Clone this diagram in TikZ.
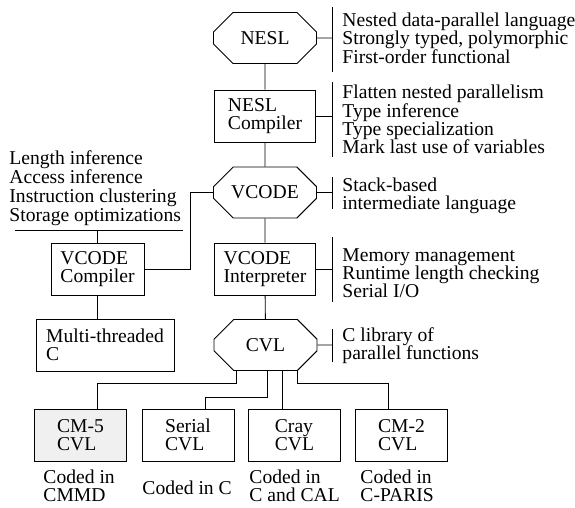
\documentclass[tikz,border=0pt]{standalone}
\usepackage{fontspec}
\setmainfont{Liberation Serif}
\usetikzlibrary{shapes.misc}

\begin{document}
\begin{tikzpicture}[x=1pt,y=-1pt,line width=0.9pt,
every node/.append style={font=\fontsize{19.6}{18.3}\selectfont},
stage/.style={chamfered rectangle,draw,chamfered rectangle xsep=15pt,
chamfered rectangle ysep=13pt,minimum width=103pt,minimum height=51pt,inner sep=0pt},
tool/.style={rectangle,draw,align=left,minimum width=92pt,minimum height=52pt,inner sep=0pt},
note/.style={align=left,anchor=west,inner xsep=10pt,inner ysep=0pt},
coded/.style={align=left,anchor=north west,inner sep=0pt}]
\useasboundingbox (0,0) rectangle (575,508);

\node[stage] (nesl) at (265,38) {NESL};
\node[tool,minimum width=101pt] (nc) at (265,116) {NESL\\Compiler};
\node[stage] (vcode) at (265,192.5) {VCODE};
\node[tool,minimum width=93pt] (vcc) at (97.5,269) {VCODE\\Compiler};
\node[tool,minimum width=101pt] (vci) at (265,269) {VCODE\\Interpreter};
\node[tool,minimum width=138pt] (mtc) at (105,345) {Multi-threaded\\C};
\node[stage] (cvl) at (265.5,345) {CVL};

\node[tool,fill=gray!12] (cm5) at (80.5,435) {CM-5\\CVL};
\node[tool] (serial) at (188,435) {Serial\\CVL};
\node[tool] (cray) at (294.5,435) {Cray\\CVL};
\node[tool] (cm2) at (401.5,435) {CM-2\\CVL};

\node[coded] (cm5code) at (43,469) {Coded in\\CMMD};
\node[coded] (serialcode) at (142,480) {Coded in C};
\node[coded] (craycode) at (249,469) {Coded in\\C and CAL};
\node[coded] (cm2code) at (360,469) {Coded in\\C-PARIS};

\node[note] (neslnote) at (332,38)
{Nested data-parallel language\\Strongly typed, polymorphic\\First-order functional};
\node[note] (ncnote) at (332,119.5)
{Flatten nested parallelism\\Type inference\\Type specialization\\Mark last use of variables};
\node[note] (vcodenote) at (332,196) {Stack-based\\intermediate language};
\node[note] (vcinote) at (332,273)
{Memory management\\Runtime length checking\\Serial I/O};
\node[note] (cvlnote) at (332,345.5) {C library of\\parallel functions};
\node[note,anchor=south west,inner sep=0pt,font=\fontsize{19.6}{19}\selectfont] (vccnote) at (9,226)
{Length inference\\Access inference\\Instruction clustering\\Storage optimizations};

\draw (nesl) -- (nc);
\draw (nc) -- (vcode);
\draw (vcode) -- (vci);
\draw (vci) -- (cvl);
\draw (vcc.east) -- ([xshift=46pt]vcc.east) |- (vcode.west);
\draw (vcc.south) -- (vcc.south |- mtc.north);

\coordinate (ulA) at (15,230);
\coordinate (ulB) at (183,230);
\draw (ulA) -- (ulB);
\draw (vcc) -- (vcc |- ulA);

\draw ([xshift=-29.5pt]cvl.south) -- ++(0,12) -| ([xshift=16.5pt]cm5.north);
\draw ([xshift=1.5pt]cvl.south) -- ++(0,26) -| ([xshift=17pt]serial.north);
\draw ([xshift=16.5pt]cvl.south) -- ([xshift=16.5pt]cvl.south |- cray.north);
\draw ([xshift=31.5pt]cvl.south) -- ++(0,12) -| ([xshift=-13.5pt]cm2.north);

\foreach \n in {nesl,nc,vcode,vci,cvl}
  \draw (\n) -- (\n -| \n note.west);
\foreach \n/\a/\b in {neslnote/7/72,ncnote/82/157,vcodenote/177/209,vcinote/237/302,cvlnote/329/362}
  \draw (\n.west |- 0,\a) -- (\n.west |- 0,\b);
\end{tikzpicture}
\end{document}
